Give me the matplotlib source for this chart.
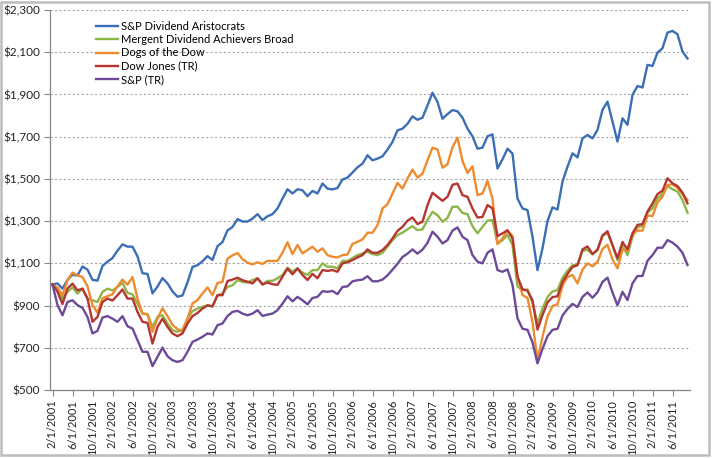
import matplotlib
matplotlib.use("Agg")
import matplotlib.pyplot as plt
from matplotlib.patches import Rectangle
from matplotlib.ticker import FuncFormatter
import pandas as pd

# ---- data (monthly, 2/1/2001 .. 9/1/2011) ----
months = [f"{d.month}/1/{d.year}" for d in pd.date_range("2001-02-01", periods=128, freq="MS")]

aristocrats = [
    1000, 1005, 980, 1022, 1046, 1043, 1085, 1070, 1022, 1018,
    1088, 1108, 1125, 1160, 1190, 1179, 1179, 1133, 1053, 1050,
    958, 990, 1030, 1005, 967, 942, 948, 1010, 1083, 1091,
    1110, 1134, 1116, 1181, 1201, 1256, 1272, 1310, 1298, 1298,
    1312, 1333, 1305, 1323, 1333, 1360, 1407, 1451, 1431, 1451,
    1446, 1418, 1443, 1431, 1478, 1454, 1450, 1457, 1497, 1506,
    1530, 1555, 1572, 1612, 1588, 1596, 1607, 1639, 1675, 1730,
    1738, 1761, 1796, 1780, 1790, 1848, 1908, 1864, 1785, 1807,
    1826, 1820, 1790, 1738, 1702, 1643, 1648, 1702, 1711, 1549,
    1593, 1643, 1620, 1407, 1360, 1352, 1226, 1068, 1171, 1300,
    1365, 1355, 1487, 1558, 1621, 1602, 1692, 1708, 1692, 1732,
    1827, 1866, 1771, 1677, 1787, 1756, 1898, 1940, 1933, 2040,
    2035, 2098, 2119, 2193, 2201, 2185, 2103, 2070,
]
mergent = [
    1000, 972, 933, 965, 986, 957, 980, 933, 925, 917,
    965, 980, 972, 988, 1007, 960, 953, 909, 862, 859,
    799, 846, 854, 815, 783, 776, 786, 838, 874, 886,
    894, 901, 896, 949, 957, 988, 996, 1020, 1012, 1009,
    1021, 1029, 998, 1017, 1017, 1029, 1045, 1080, 1061, 1076,
    1056, 1045, 1068, 1068, 1100, 1084, 1084, 1076, 1112, 1111,
    1125, 1139, 1147, 1155, 1144, 1139, 1150, 1179, 1210, 1234,
    1245, 1261, 1276, 1257, 1261, 1305, 1344, 1328, 1297, 1315,
    1368, 1368, 1339, 1333, 1276, 1242, 1273, 1302, 1305, 1194,
    1210, 1234, 1187, 990, 974, 976, 914, 815, 886, 940,
    967, 973, 1032, 1065, 1091, 1094, 1158, 1165, 1142, 1162,
    1230, 1244, 1186, 1115, 1182, 1139, 1226, 1270, 1277, 1340,
    1361, 1408, 1429, 1466, 1451, 1440, 1400, 1340,
]
dogs = [
    1000, 985, 949, 1020, 1056, 1043, 1035, 991, 902, 866,
    934, 945, 953, 991, 1023, 999, 1035, 933, 862, 859,
    776, 839, 887, 850, 808, 789, 776, 839, 910, 926,
    957, 986, 949, 1007, 1012, 1122, 1138, 1149, 1120, 1103,
    1095, 1105, 1097, 1112, 1111, 1112, 1150, 1200, 1144, 1187,
    1147, 1163, 1179, 1155, 1171, 1139, 1131, 1128, 1139, 1142,
    1192, 1202, 1213, 1245, 1245, 1281, 1360, 1380, 1431, 1481,
    1454, 1502, 1544, 1506, 1525, 1588, 1648, 1639, 1553, 1569,
    1650, 1695, 1585, 1528, 1560, 1423, 1431, 1490, 1407, 1191,
    1218, 1254, 1229, 1037, 950, 936, 822, 643, 752, 848,
    898, 905, 995, 1035, 1045, 1005, 1070, 1100, 1086, 1107,
    1168, 1188, 1118, 1076, 1164, 1160, 1240, 1255, 1255, 1327,
    1324, 1388, 1416, 1471, 1474, 1458, 1428, 1400,
]
dow = [
    1000, 965, 907, 981, 1004, 972, 980, 933, 823, 846,
    917, 933, 924, 949, 976, 933, 933, 870, 823, 818,
    720, 799, 838, 799, 768, 755, 768, 815, 850, 865,
    886, 901, 896, 949, 949, 1016, 1023, 1032, 1020, 1013,
    1005, 1029, 1001, 1009, 1001, 998, 1037, 1075, 1048, 1076,
    1045, 1021, 1050, 1029, 1068, 1064, 1068, 1060, 1100, 1105,
    1116, 1128, 1139, 1166, 1150, 1150, 1163, 1187, 1218, 1254,
    1273, 1302, 1317, 1286, 1297, 1376, 1434, 1415, 1396, 1415,
    1472, 1478, 1423, 1415, 1360, 1317, 1320, 1376, 1360, 1229,
    1242, 1257, 1218, 1037, 977, 970, 925, 786, 855, 915,
    940, 944, 1012, 1050, 1083, 1091, 1166, 1180, 1144, 1165,
    1232, 1252, 1186, 1125, 1201, 1166, 1242, 1282, 1286, 1345,
    1384, 1428, 1444, 1503, 1479, 1466, 1435, 1384,
]
sp = [
    1000, 902, 854, 917, 925, 902, 889, 846, 768, 780,
    843, 850, 838, 823, 850, 802, 791, 736, 681, 681,
    613, 657, 701, 660, 641, 633, 641, 681, 728, 739,
    752, 768, 763, 807, 815, 850, 870, 875, 862, 854,
    862, 878, 851, 857, 862, 878, 909, 944, 920, 941,
    925, 906, 936, 941, 968, 965, 969, 954, 988, 991,
    1015, 1020, 1023, 1039, 1015, 1015, 1023, 1043, 1070, 1098,
    1130, 1146, 1166, 1146, 1165, 1197, 1250, 1226, 1194, 1210,
    1255, 1270, 1226, 1210, 1139, 1108, 1100, 1150, 1166, 1068,
    1060, 1071, 998, 840, 790, 785, 725, 626, 695, 755,
    785, 790, 853, 884, 908, 893, 941, 962, 937, 963,
    1012, 1032, 962, 901, 965, 926, 1005, 1040, 1040, 1112,
    1139, 1174, 1174, 1210, 1198, 1179, 1150, 1092,
]

series_names = [
    "S&P Dividend Aristocrats",
    "Mergent Dividend Achievers Broad",
    "Dogs of the Dow",
    "Dow Jones (TR)",
    "S&P (TR)",
]
series_values = [aristocrats, mergent, dogs, dow, sp]
colors = ["#3B6EB4", "#8DB548", "#EE8B2F", "#B53630", "#6C4A97"]

y_ticks = list(range(500, 2301, 200))

# ---- figure ----
W, H = 712, 458
fig = plt.figure(figsize=(W / 100, H / 100), dpi=100)
plt.rcParams["font.family"] = ["Lato", "DejaVu Sans"]

ax = fig.add_axes([50 / W, 1 - 390 / H, 640 / W, 380 / H])

x = list(range(len(months)))
for name, vals, c in zip(series_names, series_values, colors):
    ax.plot(x, vals, color=c, lw=1.7, label=name, solid_joinstyle="round")

ax.set_xlim(-0.5, len(months) - 0.5)
ax.set_ylim(500, 2300)
ax.set_yticks(y_ticks)
ax.yaxis.set_major_formatter(FuncFormatter(lambda v, p: f"${v:,.0f}"))

tick_pos = x[::4]
ax.set_xticks(tick_pos)
ax.set_xticklabels([months[i] for i in tick_pos], rotation=90, fontsize=8, color="#222222")
ax.tick_params(axis="y", labelsize=8.5, colors="#222222", length=4, color="#868686", pad=3)
ax.tick_params(axis="x", length=4, color="#868686", pad=3)

ax.grid(axis="y", color="#A6A6A6", linestyle=(0, (2, 2)), lw=0.8)
ax.set_axisbelow(True)
for s in ["top", "right"]:
    ax.spines[s].set_visible(False)
for s in ["left", "bottom"]:
    ax.spines[s].set_color("#868686")
    ax.spines[s].set_linewidth(0.9)

leg = ax.legend(
    loc="upper left",
    bbox_to_anchor=(96 / W, 1 - 21 / H),
    bbox_transform=fig.transFigure,
    frameon=False,
    fontsize=8,
    handlelength=2.0,
    handletextpad=0.25,
    labelspacing=0.2,
    borderpad=0,
    borderaxespad=0,
)

fig.patches.append(
    Rectangle((1 / W, 3 / H), (W - 4) / W, (H - 5) / H, transform=fig.transFigure,
              fill=False, edgecolor="#BDBDBD", lw=1.8)
)

fig.savefig("out.png", dpi=100)
